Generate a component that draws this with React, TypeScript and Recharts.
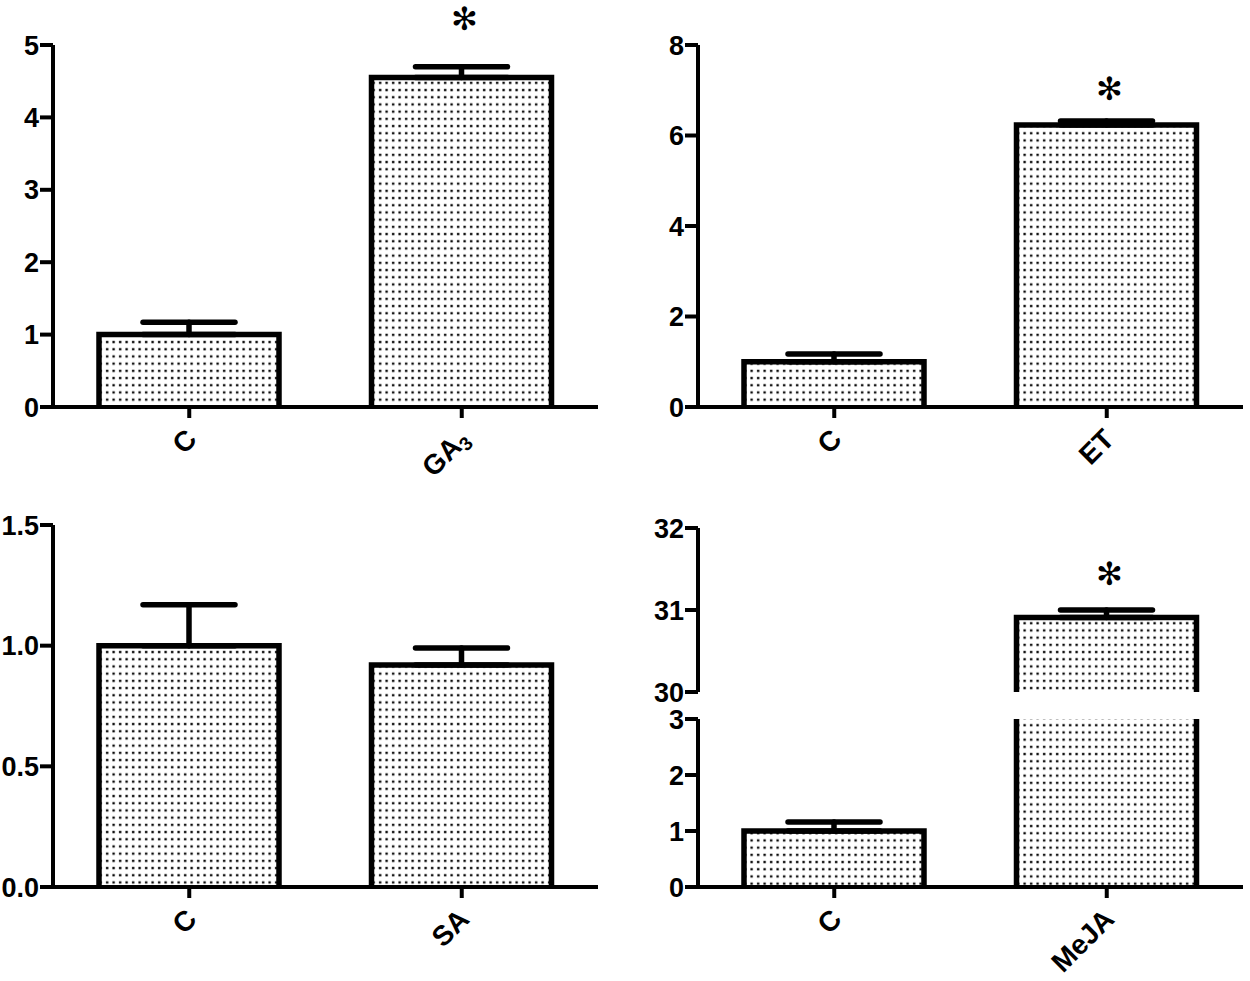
import React from "react";
import { BarChart, Bar, XAxis, YAxis, ErrorBar, LabelList } from "recharts";

// ---------- data ----------
const gaCategories = ["C", "GA3"];
const gaValues = [1.0, 4.55];
const gaErrors = [0.17, 0.15];
const gaSignificance = ["", "*"];
const gaTicks = [0, 1, 2, 3, 4, 5];

const etCategories = ["C", "ET"];
const etValues = [1.0, 6.23];
const etErrors = [0.17, 0.09];
const etSignificance = ["", "*"];
const etTicks = [0, 2, 4, 6, 8];

const saCategories = ["C", "SA"];
const saValues = [1.0, 0.92];
const saErrors = [0.17, 0.07];
const saSignificance = ["", ""];
const saTicks = [0, 0.5, 1.0, 1.5];

const mejaCategories = ["C", "MeJA"];
const mejaValues = [1.0, 30.91];
const mejaErrors = [0.16, 0.09];
const mejaSignificance = ["", "*"];
const mejaLowerTicks = [0, 1, 2, 3];
const mejaUpperTicks = [30, 31, 32];

// ---------- styles ----------
const FONT = "'Liberation Sans', Arial, Helvetica, sans-serif";
const AXIS = { stroke: "#000", strokeWidth: 4 };
const YTICK = { fill: "#000", fontSize: 27, fontWeight: 700, fontFamily: FONT };

type Row = { name: string; value: number | null; err: [number, number] | null; sig: string };

function rows(cats: string[], vals: number[], errs: number[], sig: string[]): Row[] {
  return cats.map((c, i) => ({ name: c, value: vals[i], err: [0, errs[i]], sig: sig[i] }));
}

const OpenBar = (props: any) => {
  const { x, y, width, height, topLimit } = props;
  if (x == null || y == null || !isFinite(y) || height == null) return null;
  const bottom = y + height;
  let top = y;
  let showTop = true;
  if (topLimit != null && top < topLimit) {
    top = topLimit;
    showTop = false;
  }
  const d = showTop
    ? `M${x},${bottom} L${x},${top} L${x + width},${top} L${x + width},${bottom}`
    : `M${x},${top} L${x},${bottom} M${x + width},${top} L${x + width},${bottom}`;
  return (
    <g>
      <rect x={x} y={top} width={width} height={bottom - top} fill="url(#dots)" />
      <path d={d} fill="none" stroke="#000" strokeWidth={5.5} strokeLinejoin="miter" />
    </g>
  );
};

const makeStar = (offset: number) => (p: any) => {
  const vb = p.viewBox || p;
  const x = vb.x ?? p.x;
  const y = vb.y ?? p.y;
  const w = vb.width ?? p.width;
  if (!p.value) return null;
  return (
    <text
      x={x + w / 2 + 3}
      y={y - offset}
      textAnchor="middle"
      dominantBaseline="central"
      fontFamily="'DejaVu Sans', sans-serif"
      fontSize={32}
      fill="#000"
    >
      ✻
    </text>
  );
};

const XTick = (props: any) => {
  const { x, y, payload } = props;
  const label: string = String(payload.value);
  const m = label.match(/^(.*?)(\d+)$/);
  return (
    <g transform={`translate(${x + 9},${y + 23})`}>
      <text
        transform="rotate(-45)"
        textAnchor="end"
        fontFamily={FONT}
        fontWeight={700}
        fontSize={28}
        fill="#000"
      >
        {m ? (
          <>
            {m[1]}
            <tspan fontSize={19} dy={5}>
              {m[2]}
            </tspan>
          </>
        ) : (
          label
        )}
      </text>
    </g>
  );
};

type PanelProps = {
  data: Row[];
  domain: [number, number];
  ticks: number[];
  width: number;
  height: number;
  top: number;
  yWidth: number;
  right: number;
  xHeight: number;
  starOffset: number;
  fmt?: (v: number) => string;
  hideX?: boolean;
  overflow?: boolean;
  topLimit?: number;
};

function Panel(p: PanelProps) {
  return (
    <BarChart
      width={p.width}
      height={p.height}
      data={p.data}
      margin={{ top: p.top, right: p.right, left: 0, bottom: p.hideX ? p.xHeight : 0 }}
      barSize={180}
    >
      <XAxis
        dataKey="name"
        hide={p.hideX}
        height={p.xHeight}
        interval={0}
        axisLine={AXIS}
        tickLine={AXIS}
        tickSize={11}
        tickMargin={0}
        tick={(t: any) => <XTick {...t} />}
      />
      <YAxis
        type="number"
        domain={p.domain}
        ticks={p.ticks}
        interval={0}
        allowDataOverflow={p.overflow}
        width={p.yWidth}
        axisLine={AXIS}
        tickLine={AXIS}
        tickSize={13}
        tickMargin={1}
        tick={YTICK}
        tickFormatter={p.fmt}
      />
      <Bar
        dataKey="value"
        isAnimationActive={false}
        shape={(s: any) => <OpenBar {...s} topLimit={p.topLimit} />}
      >
        <ErrorBar
          dataKey="err"
          direction="y"
          width={46}
          stroke="#000"
          strokeWidth={5.5}
          strokeLinecap="round"
          isAnimationActive={false}
        />
        <LabelList dataKey="sig" content={makeStar(p.starOffset)} />
      </Bar>
    </BarChart>
  );
}

export default function App() {
  const ga = rows(gaCategories, gaValues, gaErrors, gaSignificance);
  const et = rows(etCategories, etValues, etErrors, etSignificance);
  const sa = rows(saCategories, saValues, saErrors, saSignificance);
  const lowerMax = mejaLowerTicks[mejaLowerTicks.length - 1];
  const upperMin = mejaUpperTicks[0];
  const mejaLower: Row[] = mejaCategories.map((c, i) => ({
    name: c,
    value: mejaValues[i],
    err: mejaValues[i] + mejaErrors[i] <= lowerMax ? [0, mejaErrors[i]] : null,
    sig: "",
  }));
  const mejaUpper: Row[] = mejaCategories.map((c, i) => ({
    name: c,
    value: mejaValues[i] >= upperMin ? mejaValues[i] : null,
    err: mejaValues[i] >= upperMin ? [0, mejaErrors[i]] : null,
    sig: mejaValues[i] >= upperMin ? mejaSignificance[i] : "",
  }));

  return (
    <div style={{ position: "absolute", left: 0, top: 0, width: 1250, height: 981, background: "#fff" }}>
      <svg width={0} height={0} style={{ position: "absolute" }}>
        <defs>
          <pattern id="dots" patternUnits="userSpaceOnUse" width={6.5} height={7.2}>
            <rect x={2} y={2.5} width={2.3} height={2.3} fill="#000" />
          </pattern>
        </defs>
      </svg>
      <div style={{ position: "absolute", left: 0, top: 0 }}>
        <Panel data={ga} domain={[0, 5]} ticks={gaTicks} width={625} height={490} top={45} yWidth={53} right={27} xHeight={83} starOffset={59} />
      </div>
      <div style={{ position: "absolute", left: 625, top: 0 }}>
        <Panel data={et} domain={[0, 8]} ticks={etTicks} width={625} height={490} top={45} yWidth={73} right={7} xHeight={83} starOffset={36} />
      </div>
      <div style={{ position: "absolute", left: 0, top: 490 }}>
        <Panel data={sa} domain={[0, 1.5]} ticks={saTicks} width={625} height={491} top={35} yWidth={53} right={27} xHeight={94} starOffset={40} fmt={(v) => v.toFixed(1)} />
      </div>
      <div style={{ position: "absolute", left: 625, top: 700 }}>
        <Panel data={mejaLower} domain={[0, 3]} ticks={mejaLowerTicks} width={625} height={281} top={19} yWidth={73} right={7} xHeight={94} starOffset={40} overflow topLimit={19} />
      </div>
      <div style={{ position: "absolute", left: 625, top: 490 }}>
        <Panel data={mejaUpper} domain={[30, 32]} ticks={mejaUpperTicks} width={625} height={220} top={38} yWidth={73} right={7} xHeight={18} starOffset={43} hideX />
      </div>
    </div>
  );
}
